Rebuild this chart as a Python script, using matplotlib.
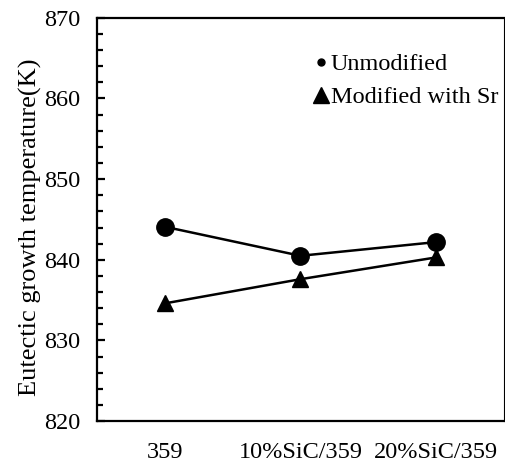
import matplotlib
matplotlib.use("Agg")
import matplotlib.pyplot as plt
from matplotlib.lines import Line2D
from matplotlib.ticker import MultipleLocator

plt.rcParams['font.family'] = ['Liberation Serif', 'DejaVu Serif']

# data
categories = ["359", "10%SiC/359", "20%SiC/359"]
unmodified = [844.1, 840.5, 842.2]
modified_sr = [834.6, 837.6, 840.3]
series_names = ["Unmodified", "Modified with Sr"]

fig = plt.figure(figsize=(5.05, 4.69), dpi=100)
ax = fig.add_axes([0.192, 0.102, 0.806, 0.860])

x = range(len(categories))
ax.plot(x, unmodified, color='black', lw=1.8, marker='o', ms=12.5)
ax.plot(x, modified_sr, color='black', lw=1.8, marker='^', ms=12)

ax.set_xlim(-0.5, 2.5)
ax.set_ylim(820, 870)
ax.set_xticks(list(x))
ax.set_xticklabels(categories, fontsize=17.5)
ax.yaxis.set_major_locator(MultipleLocator(10))
ax.yaxis.set_minor_locator(MultipleLocator(2))

ax.tick_params(axis='y', which='major', direction='in', length=6, width=1.6,
               labelsize=17.5, pad=12, right=False)
ax.tick_params(axis='y', which='minor', direction='in', length=4, width=1.6, right=False)
ax.tick_params(axis='x', which='both', length=0, pad=15)

for side in ['left', 'bottom', 'top']:
    ax.spines[side].set_linewidth(1.6)
ax.spines['right'].set_linewidth(0.8)

ax.set_ylabel("Eutectic growth temperature(K)", fontsize=19)
ax.yaxis.set_label_coords(-0.135, 0.481)

# legend: small dot, big triangle, like the original
handles = [Line2D([], [], color='black', ls='', marker='o', ms=5),
           Line2D([], [], color='black', ls='', marker='^', ms=11)]
ax.legend(handles, series_names, loc='upper left', bbox_to_anchor=(0.53, 0.912),
          frameon=False, fontsize=17.5, handlelength=0.7, handletextpad=0.05,
          labelspacing=0.45, borderpad=0, borderaxespad=0)

fig.savefig("out.png", dpi=100)
